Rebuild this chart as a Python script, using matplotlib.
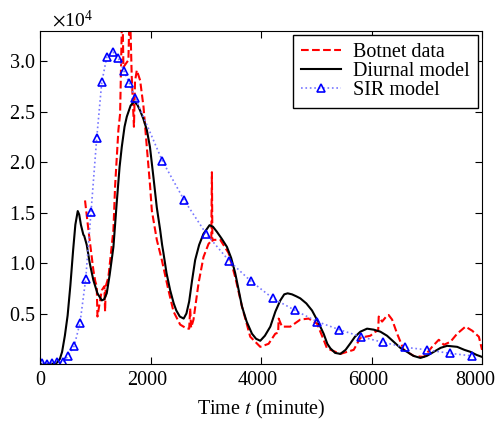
import matplotlib
matplotlib.use("Agg")
import matplotlib.pyplot as plt
import matplotlib.transforms as mtransforms
from matplotlib.ticker import ScalarFormatter

plt.rcParams['font.family'] = ['Liberation Serif', 'DejaVu Serif']
plt.rcParams['mathtext.fontset'] = 'stix'

# Botnet data (red, dashed), units of 1e4
botnet_t = [815, 876, 966, 1000, 1027, 1040, 1118, 1165, 1178, 1190, 1238, 1329, 1359, 1419,
            1450, 1490, 1510, 1560, 1600, 1625, 1660, 1700, 1720, 1752, 1812, 1873, 1933,
            1993, 2024, 2114, 2205, 2325, 2416, 2537, 2658, 2700, 2718, 2735, 2778, 2869,
            2959, 3050, 3100, 3111, 3120, 3140, 3262, 3412, 3533, 3655, 3805, 3986, 4137,
            4258, 4310, 4319, 4379, 4530, 4711, 4862, 5014, 5133, 5194, 5436, 5677, 5798,
            5979, 6070, 6120, 6130, 6191, 6281, 6310, 6372, 6463, 6583, 6764, 6945, 7096,
            7217, 7308, 7428, 7549, 7700, 7821, 7942, 8000]
botnet_y = [1.62, 1.33, 0.93, 0.82, 0.77, 0.47, 0.73, 0.77, 0.52, 0.77, 0.86, 1.33, 1.76, 2.32,
            2.48, 3.6, 2.94, 2.98, 3.01, 3.6, 2.85, 2.35, 2.8, 2.91, 2.81, 2.55, 2.15,
            1.76, 1.52, 1.23, 1.03, 0.73, 0.52, 0.39, 0.35, 0.35, 0.55, 0.36, 0.44, 0.80,
            1.06, 1.19, 1.22, 1.90, 1.22, 1.23, 1.23, 1.10, 0.86, 0.57, 0.27, 0.17, 0.20,
            0.30, 0.31, 0.45, 0.37, 0.37, 0.44, 0.45, 0.40, 0.24, 0.155, 0.10, 0.14, 0.26,
            0.28, 0.32, 0.33, 0.47, 0.42, 0.48, 0.485, 0.44, 0.30, 0.14, 0.08, 0.07, 0.17,
            0.24, 0.19, 0.22, 0.30, 0.37, 0.33, 0.27, 0.14]

# Diurnal model (black)
diurnal_t = [0, 200, 300, 360, 400, 450, 500, 550, 600, 640, 683, 710, 740, 785, 800, 846,
             900, 966, 1040, 1118, 1160, 1208, 1260, 1329, 1389, 1440, 1480, 1530, 1571,
             1640, 1703, 1760, 1812, 1870, 1933, 1990, 2053, 2114, 2174, 2210, 2234, 2290,
             2356, 2420, 2467, 2530, 2600, 2650, 2700, 2750, 2808, 2880, 2959, 3068, 3130,
             3201, 3290, 3383, 3460, 3533, 3600, 3655, 3740, 3836, 3910, 3986, 4070, 4168,
             4260, 4349, 4420, 4482, 4560, 4640, 4711, 4820, 4923, 5030, 5133, 5200, 5255,
             5340, 5436, 5530, 5617, 5700, 5798, 5919, 6040, 6160, 6280, 6401, 6520, 6643,
             6760, 6885, 7000, 7126, 7250, 7368, 7549, 7680, 7791, 7900, 8000]
diurnal_y = [0.0, 0.0, 0.01, 0.05, 0.12, 0.28, 0.48, 0.78, 1.13, 1.38, 1.515, 1.48, 1.38,
             1.28, 1.27, 1.18, 1.0, 0.83, 0.70, 0.63, 0.64, 0.70, 0.88, 1.16, 1.6, 1.95,
             2.15, 2.35, 2.45, 2.56, 2.60, 2.57, 2.51, 2.43, 2.32, 2.15, 1.85, 1.55, 1.33,
             1.18, 1.10, 0.9, 0.73, 0.6, 0.53, 0.47, 0.45, 0.5, 0.62, 0.82, 1.03, 1.18,
             1.29, 1.375, 1.36, 1.31, 1.24, 1.16, 1.05, 0.90, 0.72, 0.57, 0.42, 0.30, 0.25,
             0.23, 0.28, 0.37, 0.52, 0.63, 0.69, 0.70, 0.69, 0.67, 0.65, 0.60, 0.53, 0.42,
             0.30, 0.20, 0.155, 0.11, 0.10, 0.14, 0.205, 0.27, 0.32, 0.35, 0.34, 0.32, 0.28,
             0.22, 0.16, 0.12, 0.08, 0.06, 0.08, 0.12, 0.16, 0.18, 0.17, 0.14, 0.12, 0.09,
             0.07]

# SIR model (blue triangles)
sir_t = [30, 120, 210, 300, 420, 510, 620, 725, 827, 924, 1027, 1118, 1208, 1317, 1419,
         1522, 1619, 1721, 2216, 2612, 3008, 3425, 3818, 4216, 4621, 5014, 5418, 5811,
         6203, 6614, 7007, 7411, 7822]
sir_y = [0.007, 0.0, 0.013, 0.017, 0.02, 0.08, 0.18, 0.41, 0.84, 1.51, 2.24, 2.79, 3.04,
         3.09, 3.03, 2.90, 2.78, 2.64, 2.01, 1.62, 1.29, 1.02, 0.82, 0.65, 0.53, 0.42,
         0.34, 0.27, 0.215, 0.165, 0.14, 0.106, 0.08]

scale = 1e4
fig = plt.figure(figsize=(4.98, 4.23), dpi=100)
ax = fig.add_axes([0.0803, 0.1395, 0.8877, 0.7875])

ax.plot(botnet_t, [v * scale for v in botnet_y], '--', color='red', lw=1.5, label='Botnet data')
ax.plot(diurnal_t, [v * scale for v in diurnal_y], '-', color='black', lw=1.5, label='Diurnal model')
ax.plot(sir_t, [v * scale for v in sir_y], ':', color='#7777ff', lw=1.2, marker='^',
        markersize=5.5, markerfacecolor='none', markeredgecolor='blue', markeredgewidth=1.2,
        label='SIR model')

ax.set_xlim(0, 8000)
ax.set_ylim(0, 3.3e4)
ax.set_xticks([0, 2000, 4000, 6000, 8000])
ax.set_yticks([5000, 10000, 15000, 20000, 25000, 30000])
fmt = ScalarFormatter(useMathText=True)
fmt.set_powerlimits((0, 0))
ax.yaxis.set_major_formatter(fmt)
ax.tick_params(direction='in', top=True, right=True, labelsize=14.5, length=5)
ax.tick_params(axis='x', pad=5)
ax.yaxis.get_offset_text().set_fontsize(14)
ax.yaxis.get_offset_text().set_x(0.027)
ax.set_xlabel('Time $t$ (minute)', fontsize=14.5, labelpad=6)

# nudge x tick labels left like the reference, last one more so it fits
shifts = [0, -3, -3, -3, -7]
for dx, lab in zip(shifts, ax.get_xticklabels()):
    lab.set_transform(lab.get_transform() + mtransforms.ScaledTranslation(dx / 100, 0, fig.dpi_scale_trans))

leg = ax.legend(loc='upper right', fontsize=14.5, fancybox=False, edgecolor='black',
                framealpha=1, borderaxespad=0.2, handlelength=2.0, labelspacing=0.0,
                borderpad=0.4, handletextpad=0.6)
leg.get_frame().set_linewidth(1.0)

fig.savefig('out.png', dpi=100)
